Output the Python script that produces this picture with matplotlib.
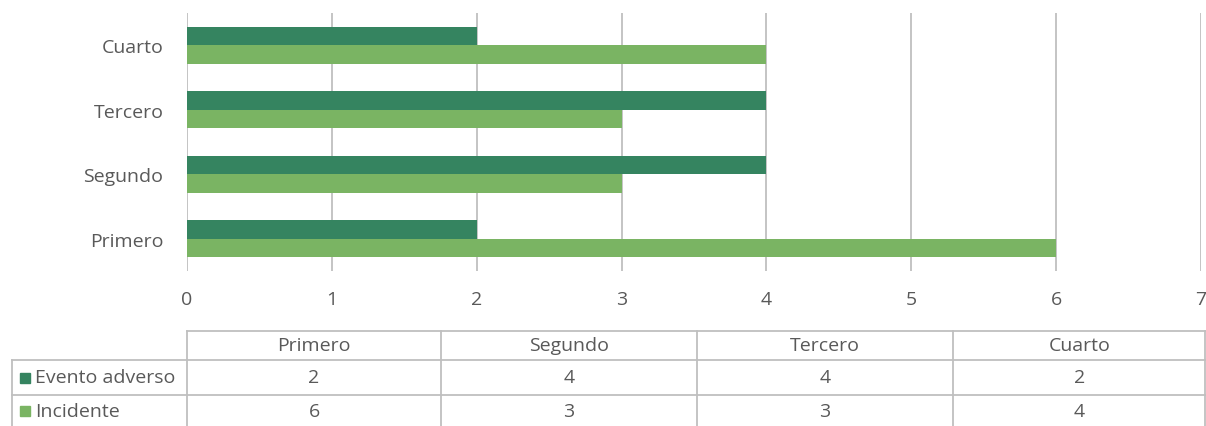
import matplotlib.pyplot as plt
from matplotlib.patches import Rectangle
from matplotlib.lines import Line2D

plt.rcParams['font.family'] = ['Open Sans', 'DejaVu Sans']

# data
categories = ['Primero', 'Segundo', 'Tercero', 'Cuarto']
series_names = ['Evento adverso', 'Incidente']
evento = [2, 4, 4, 2]
incidente = [6, 3, 3, 4]
colors = ['#358460', '#7AB463']
grid_col = '#BFBFBF'
text_col = '#595959'
fs = 14

W, H = 1206, 427
fig = plt.figure(figsize=(W / 100, H / 100), dpi=100)

# plot area in pixel coords
x0, x1 = 187, 1201
y_top, y_bot = 14, 272
ax = fig.add_axes([x0 / W, 1 - y_bot / H, (x1 - x0) / W, (y_bot - y_top) / H])

ypos = list(range(len(categories)))
h = 0.29
ax.barh([y + h / 2 for y in ypos], evento, height=h, color=colors[0], zorder=3)
ax.barh([y - h / 2 for y in ypos], incidente, height=h, color=colors[1], zorder=3)

ax.set_xlim(0, 7)
ax.set_ylim(-0.5, len(categories) - 0.5)
ax.set_xticks(range(0, 8))
ax.set_yticks(ypos)
ax.set_yticklabels(categories)
ax.grid(axis='x', color=grid_col, linewidth=1.3, zorder=0)
for s in ax.spines.values():
    s.set_visible(False)
ax.tick_params(axis='both', length=0, labelsize=fs, labelcolor=text_col)
ax.tick_params(axis='x', pad=14)
ax.tick_params(axis='y', pad=17)

# data table drawn below the chart
tr = fig.transFigure
def fx(px):
    return px / W
def fy(py):
    return 1 - py / H

col_edges = [187, 441, 697, 953, 1206]
row_edges = [332, 361, 396, 440]
left = 12
lw = 1.3

def hline(y, xa, xb):
    fig.add_artist(Line2D([fx(xa), fx(xb)], [fy(y), fy(y)], transform=tr, color=grid_col, lw=lw))

def vline(x, ya, yb):
    fig.add_artist(Line2D([fx(x), fx(x)], [fy(ya), fy(yb)], transform=tr, color=grid_col, lw=lw))

hline(row_edges[0], col_edges[0], col_edges[-1])
hline(row_edges[1], left, col_edges[-1])
hline(row_edges[2], left, col_edges[-1])
vline(left, row_edges[1], row_edges[3])
for x in col_edges[:-1]:
    vline(x, row_edges[0], row_edges[3])
vline(col_edges[-1] - 1, row_edges[0], row_edges[3])

# header
for i, cat in enumerate(categories):
    cx = (col_edges[i] + col_edges[i + 1]) / 2
    fig.text(fx(cx), fy((row_edges[0] + row_edges[1]) / 2), cat, ha='center', va='center',
             fontsize=fs, color=text_col)

rows = [evento, incidente]
for r, (name, vals) in enumerate(zip(series_names, rows)):
    ya, yb = row_edges[r + 1], row_edges[r + 2] if r == 0 else 427
    cy = (ya + yb) / 2 if r == 0 else ya + 16
    fig.add_artist(Rectangle((fx(20), fy(cy + 5)), 10 / W, 10 / H, transform=tr,
                             color=colors[r]))
    fig.text(fx(35), fy(cy), name, ha='left', va='center', fontsize=fs, color=text_col)
    for i, v in enumerate(vals):
        cx = (col_edges[i] + col_edges[i + 1]) / 2
        fig.text(fx(cx), fy(cy), str(v), ha='center', va='center', fontsize=fs, color=text_col)

fig.savefig('out.png', dpi=100)
